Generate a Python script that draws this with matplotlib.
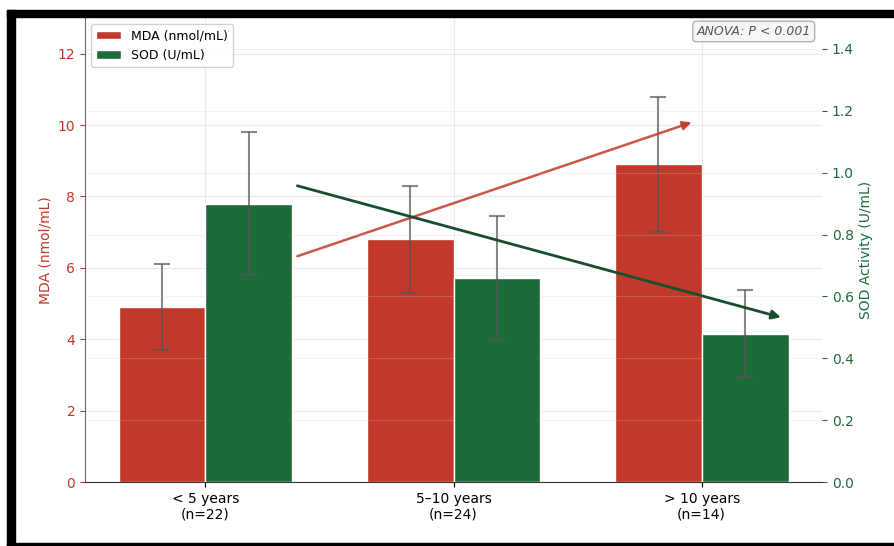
import matplotlib
matplotlib.use("Agg")
import matplotlib.pyplot as plt
from matplotlib.patches import Rectangle
import numpy as np

# data
groups = ["< 5 years\n(n=22)", "5–10 years\n(n=24)", "> 10 years\n(n=14)"]
mda_mean = [4.9, 6.8, 8.9]
mda_sd = [1.2, 1.5, 1.9]
sod_mean = [0.90, 0.66, 0.48]
sod_sd = [0.23, 0.20, 0.14]

red = "#c0392b"
green = "#1e6b3a"

W, H = 894, 546
fig = plt.figure(figsize=(W / 100, H / 100), dpi=100)
ax = fig.add_axes([85 / W, (H - 482) / H, (822 - 85) / W, (482 - 18) / H])
ax2 = ax.twinx()

x = np.arange(len(groups))
w = 0.35

ax.bar(x - w / 2, mda_mean, w, color=red, edgecolor="white", linewidth=1, label="MDA (nmol/mL)", zorder=2)
ax.errorbar(x - w / 2, mda_mean, yerr=mda_sd, fmt="none", ecolor="#555555", alpha=0.7,
            capsize=6, elinewidth=1.5, capthick=1.5, zorder=3)
ax2.bar(x + w / 2, sod_mean, w, color=green, edgecolor="white", linewidth=1, label="SOD (U/mL)", zorder=2)
ax2.errorbar(x + w / 2, sod_mean, yerr=sod_sd, fmt="none", ecolor="#555555", alpha=0.7,
             capsize=6, elinewidth=1.5, capthick=1.5, zorder=3)

ax.set_ylim(0, 13)
ax2.set_ylim(0, 1.5)
ax.set_xticks(x)
ax.set_xticklabels(groups, fontsize=10)

ax.set_ylabel("MDA (nmol/mL)", color=red, fontsize=10)
ax2.set_ylabel("SOD Activity (U/mL)", color=green, fontsize=10)
ax.tick_params(axis="y", colors=red, labelsize=10)
ax2.tick_params(axis="y", colors=green, labelsize=10)
ax.yaxis.set_ticks([0, 2, 4, 6, 8, 10, 12])
ax2.yaxis.set_ticks([0, 0.2, 0.4, 0.6, 0.8, 1.0, 1.2, 1.4])

# faint grid from both axes (ax2's lies over the red bars, keep it very light)
ax.grid(True, linestyle="-", color="#dddddd", alpha=0.6)
ax2.grid(True, axis="y", linestyle="-", color="#cccccc", alpha=0.25)
ax.set_axisbelow(True)

for a in (ax, ax2):
    a.spines["top"].set_visible(False)
    a.spines["right"].set_visible(False)
ax2.spines["left"].set_visible(False)
ax2.spines["bottom"].set_visible(False)
ax.spines["left"].set_color("#666666")
ax.spines["bottom"].set_color("#333333")

# trend arrows
ax.annotate("", xy=(1.97, 10.1), xytext=(0.36, 6.3),
            arrowprops=dict(arrowstyle="-|>", color=red, lw=1.8, alpha=0.85, mutation_scale=13))
ax2.annotate("", xy=(2.33, 0.53), xytext=(0.36, 0.96),
             arrowprops=dict(arrowstyle="-|>", color="#1a4d2e", lw=2, mutation_scale=13))

h1, l1 = ax.get_legend_handles_labels()
h2, l2 = ax2.get_legend_handles_labels()
ax2.legend(h1 + h2, l1 + l2, loc="upper left", fontsize=9, framealpha=0.9)

ax2.text(0.985, 0.985, "ANOVA: P < 0.001", transform=ax2.transAxes, ha="right", va="top",
         fontsize=9, style="italic", color="#555555",
         bbox=dict(boxstyle="round,pad=0.3", facecolor="#f5f5f5", edgecolor="#aaaaaa", alpha=0.9))

# black frame around the picture
def px_rect(x0, y0, x1, y1):
    fig.patches.append(Rectangle((x0 / W, (H - y1) / H), (x1 - x0) / W, (y1 - y0) / H,
                                 transform=fig.transFigure, color="black", zorder=10))

px_rect(7, 10, W, 17)
px_rect(7, 10, 15, H)
px_rect(7, 543, W, H)

fig.savefig("out.png", dpi=100)
